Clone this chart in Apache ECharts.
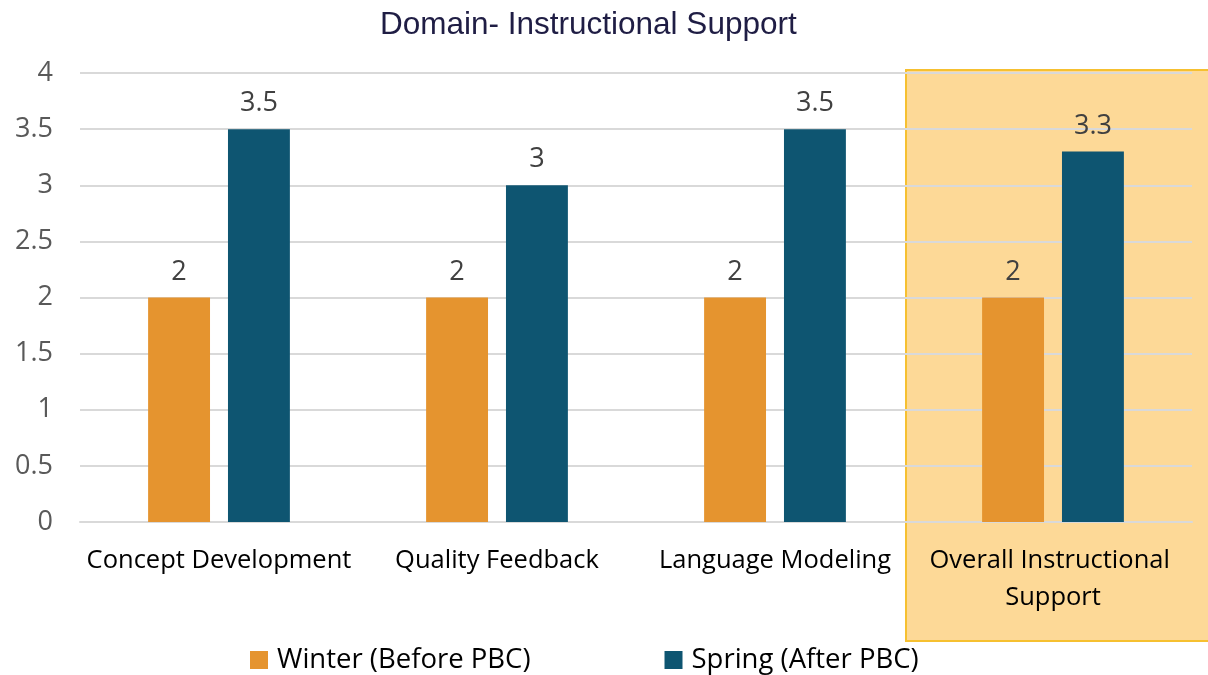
<!DOCTYPE html>
<html lang="en">
<head>
  <meta charset="UTF-8">
  <title>Domain- Instructional Support</title>
  <script src="https://cdn.jsdelivr.net/npm/echarts@6/dist/echarts.min.js"></script>
  <style>
    html, body { margin: 0; padding: 0; background: #fff; }
    #chart { width: 1208px; height: 675px; }
  </style>
</head>
<body>
  <div id="chart"></div>
<script>
  const categories = ['Concept Development', 'Quality Feedback', 'Language Modeling', 'Overall Instructional Support']
  const winter = [2, 2, 2, 2]
  const spring = [3.5, 3, 3.5, 3.3]
  const seriesNames = ['Winter (Before PBC)', 'Spring (After PBC)']
  const highlightIndex = 3

  const font = "'Open Sans', 'Noto Sans', sans-serif"
  let myCharts = echarts.init(document.getElementById('chart'))

  let option = {
    title: {
      text: 'Domain- Instructional Support',
      left: 375,
      top: 4,
      textStyle: {
        fontFamily: "'Liberation Sans', sans-serif",
        fontSize: 31.5,
        fontWeight: 'normal',
        color: '#1f1d44'
      }
    },
    grid: { left: 80, right: 16, top: 73, bottom: 153 },
    legend: {
      bottom: -4,
      left: 245,
      icon: 'rect',
      itemWidth: 18,
      itemHeight: 18,
      itemGap: 134,
      textStyle: { fontFamily: font, fontSize: 27.5, color: '#000', padding: [0, 0, 0, 4] },
      data: seriesNames
    },
    xAxis: {
      type: 'category',
      data: categories,
      axisTick: { show: false },
      axisLine: { lineStyle: { color: '#d9d9d9', width: 2 } },
      axisLabel: {
        fontFamily: font,
        fontSize: 25.5,
        color: '#000',
        margin: 20,
        lineHeight: 37,
        interval: 0,
        width: 268,
        overflow: 'break'
      }
    },
    yAxis: {
      type: 'value',
      min: 0,
      max: 4,
      interval: 0.5,
      axisLine: { show: false },
      axisTick: { show: false },
      splitLine: { lineStyle: { color: '#d9d9d9', width: 2 } },
      axisLabel: { fontFamily: font, fontSize: 27, color: '#595959', margin: 27 }
    },
    series: [
      {
        name: seriesNames[0],
        type: 'bar',
        data: winter,
        itemStyle: { color: '#e5942f' },
        barGap: '29%',
        barCategoryGap: '49%',
        label: { show: true, position: 'top', distance: 12, fontFamily: font, fontSize: 27, color: '#404040' }
      },
      {
        name: seriesNames[1],
        type: 'bar',
        data: spring,
        itemStyle: { color: '#0e5571' },
        label: { show: true, position: 'top', distance: 12, fontFamily: font, fontSize: 27, color: '#404040' }
      }
    ]
  }
  myCharts.setOption(option)

  // highlight box behind the last category, placed from the axis scale
  let c0 = myCharts.convertToPixel({ xAxisIndex: 0 }, 0)
  let c1 = myCharts.convertToPixel({ xAxisIndex: 0 }, 1)
  let band = c1 - c0
  let cx = myCharts.convertToPixel({ xAxisIndex: 0 }, highlightIndex)
  let topY = myCharts.convertToPixel({ yAxisIndex: 0 }, 4)
  let left = cx - band / 2 - 8
  myCharts.setOption({
    graphic: [{
      type: 'rect',
      z: -10,
      silent: true,
      shape: { x: left, y: topY - 3, width: 1208 - left + 2, height: 641 - topY + 3 },
      style: { fill: '#fdd997', stroke: '#f6c030', lineWidth: 2 }
    }]
  })
</script>
</body>
</html>
